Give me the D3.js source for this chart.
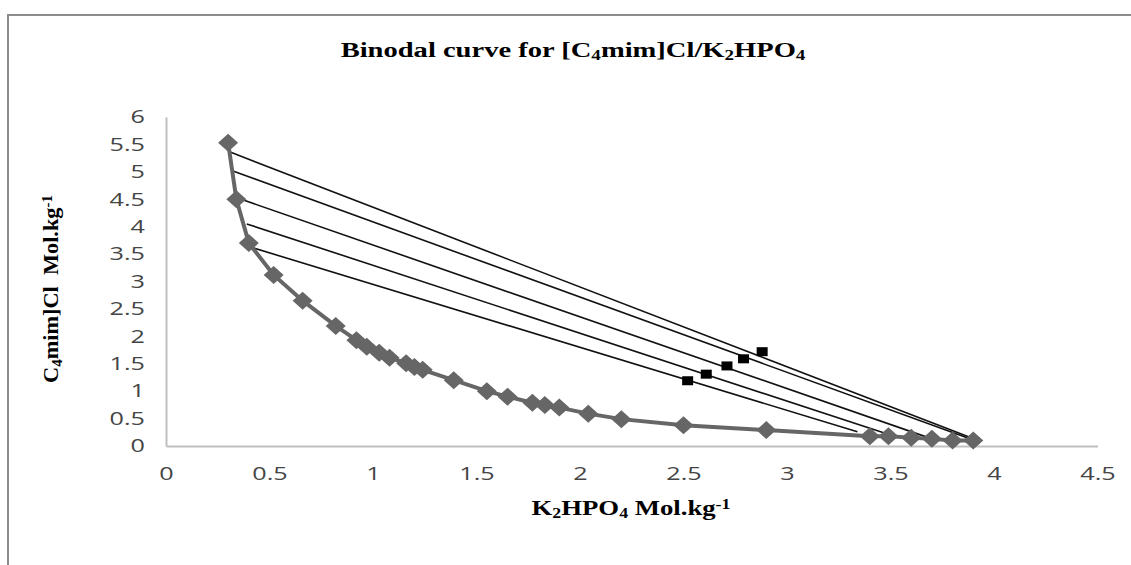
<!DOCTYPE html>
<html>
<head>
<meta charset="utf-8">
<script src="https://cdn.jsdelivr.net/npm/d3@7"></script>
<style>
  body { margin: 0; background: #fff; }
  svg { display: block; }
  .tick text { font-family: "Open Sans", "Liberation Sans", sans-serif; font-size: 18px; fill: #454545; }
  .ttl { font-family: "Liberation Serif", "Times New Roman", serif; font-weight: bold; fill: #000; }
</style>
</head>
<body>
<script>
var w = 1131,
h = 565,
stretch = 1.4;   // the reference text is drawn wide

// binodal curve (K2HPO4, C4mimCl)
var binodalX = [0.30,0.34,0.40,0.52,0.66,0.82,0.92,0.97,1.03,1.08,1.16,1.20,1.24,1.39,1.55,1.65,1.77,1.83,1.90,2.04,2.20,2.50,2.90,3.40,3.49,3.60,3.70,3.80,3.90];
var binodalY = [5.53,4.50,3.70,3.12,2.65,2.19,1.93,1.81,1.70,1.61,1.51,1.44,1.39,1.20,1.00,0.90,0.79,0.75,0.70,0.59,0.49,0.38,0.29,0.18,0.18,0.15,0.13,0.10,0.10];

// tie lines: top phase -> bottom phase, plus feed points
var tieTopX = [0.38,0.39,0.37,0.32,0.31];
var tieTopY = [3.66,4.05,4.49,5.02,5.36];
var tieBotX = [3.34,3.50,3.70,3.87,3.93];
var tieBotY = [0.26,0.20,0.13,0.15,0.09];
var feedX = [2.52,2.61,2.71,2.79,2.88];
var feedY = [1.19,1.31,1.46,1.59,1.72];

var xTicks = [0,0.5,1,1.5,2,2.5,3,3.5,4,4.5];
var yTicks = [0,0.5,1,1.5,2,2.5,3,3.5,4,4.5,5,5.5,6];

var svg = d3.select('body').append('svg')
.attr('width', w)
.attr('height', h);

// outer frame (cut at right and bottom)
svg.append('path')
.attr('d', 'M8,' + h + 'V15H' + w)
.attr('fill', 'none')
.attr('stroke', '#8c8c8c')
.attr('stroke-width', 2);

var x = d3.scaleLinear().domain([0, 4.5]).range([166, 1097.5]);
var y = d3.scaleLinear().domain([0, 6]).range([446, 117]);

var xAxis = d3.axisBottom(x).tickValues(xTicks).tickSize(0).tickPadding(21).tickFormat(d3.format('~g'));
var yAxis = d3.axisLeft(y).tickValues(yTicks).tickSize(0).tickFormat(d3.format('~g'));

var gx = svg.append('g').attr('transform', 'translate(0,446)').call(xAxis);
var gy = svg.append('g').attr('transform', 'translate(166,0)').call(yAxis);
[gx, gy].forEach(function(g){
  g.select('.domain').attr('stroke', '#bfbfbf').attr('stroke-width', 2);
});
gx.selectAll('.tick text').attr('transform', 'scale(' + stretch + ',1)');
gy.selectAll('.tick text')
.attr('x', -21 / stretch)
.attr('transform', 'scale(' + stretch + ',1)');

// tie lines
svg.selectAll('line.tie')
.data(tieTopX)
.enter()
.append('line')
.attr('class', 'tie')
.attr('x1', (d, i) => x(d))
.attr('y1', (d, i) => y(tieTopY[i]))
.attr('x2', (d, i) => x(tieBotX[i]))
.attr('y2', (d, i) => y(tieBotY[i]))
.attr('stroke', '#111')
.attr('stroke-width', 1.6);

// binodal line + diamonds
var pts = binodalX.map((d, i) => [d, binodalY[i]]);
svg.append('path')
.datum(pts)
.attr('d', d3.line().x(d => x(d[0])).y(d => y(d[1])))
.attr('fill', 'none')
.attr('stroke', '#666')
.attr('stroke-width', 4);

svg.selectAll('path.dia')
.data(pts)
.enter()
.append('path')
.attr('class', 'dia')
.attr('transform', d => 'translate(' + x(d[0]) + ',' + y(d[1]) + ')')
.attr('d', 'M0,-9L10,0L0,9L-10,0Z')
.attr('fill', '#666');

// feed points
svg.selectAll('rect.feed')
.data(feedX)
.enter()
.append('rect')
.attr('class', 'feed')
.attr('x', (d, i) => x(d) - 5.5)
.attr('y', (d, i) => y(feedY[i]) - 4.5)
.attr('width', 11)
.attr('height', 9)
.attr('fill', '#000');

// text helper: parts = [[text, 'sub'|'sup'|null], ...], squeezed/stretched to a target length
function label(tx, ty, rot, size, parts, len) {
  var g = svg.append('g').attr('transform', 'translate(' + tx + ',' + ty + ') rotate(' + rot + ')');
  var t = g.append('text')
  .attr('class', 'ttl')
  .attr('text-anchor', 'middle')
  .style('font-size', size + 'px');
  parts.forEach(function(p){
    var s = t.append('tspan').text(p[0]);
    if (p[1] == 'sub') s.attr('baseline-shift', '-25%').style('font-size', Math.round(size * 0.68) + 'px');
    if (p[1] == 'sup') s.attr('baseline-shift', '45%').style('font-size', Math.round(size * 0.68) + 'px');
  });
  var l = t.node().getBBox().width;
  t.attr('transform', 'scale(' + (len / l) + ',1)');
}

label(573, 57, 0, 21, [['Binodal curve for [C'], ['4', 'sub'], ['mim]Cl/K'], ['2', 'sub'], ['HPO'], ['4', 'sub']], 465);
label(631, 515, 0, 21, [['K'], ['2', 'sub'], ['HPO'], ['4', 'sub'], ['\u00a0Mol.kg'], ['-1', 'sup']], 199);
label(58, 289, -90, 21, [['C'], ['4', 'sub'], ['mim]Cl\u00a0\u00a0Mol.kg'], ['-1', 'sup']], 188);
</script>
</body>
</html>
